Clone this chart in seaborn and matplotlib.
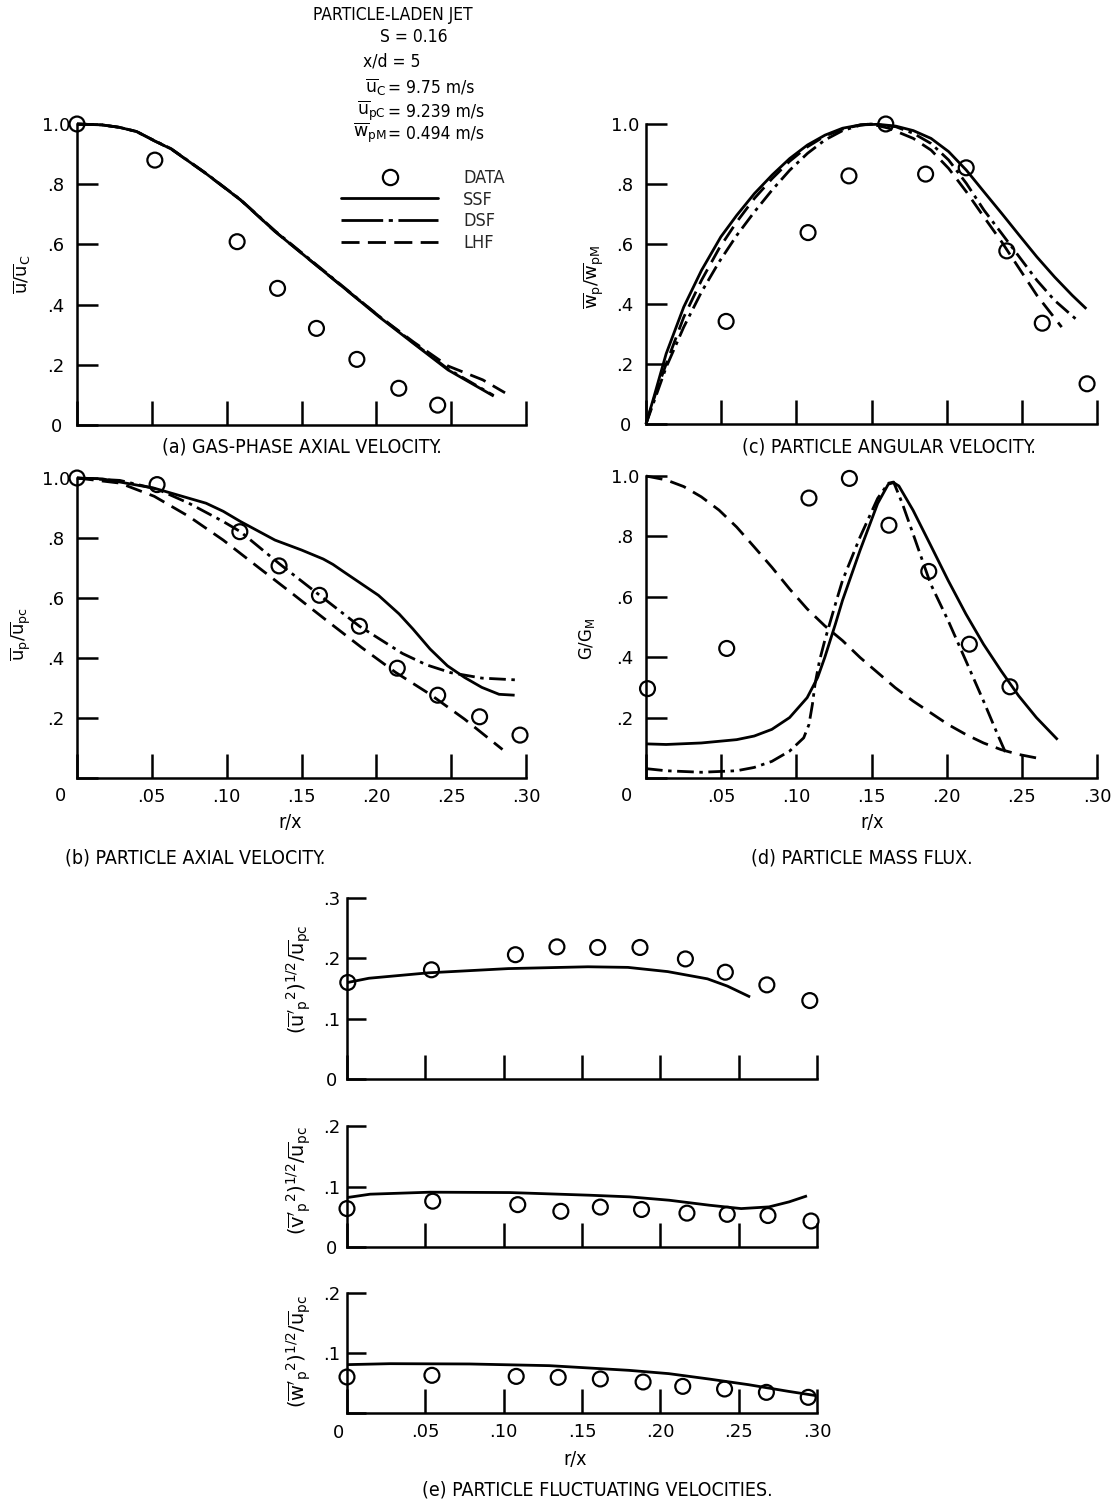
import matplotlib
matplotlib.use("Agg")
import matplotlib.pyplot as plt
import seaborn as sns
import numpy as np
import pandas as pd
from matplotlib import font_manager as fm
from matplotlib.lines import Line2D

# ---------------- data ----------------
# (a) gas-phase axial velocity
a_data_r = [0.0, 0.052, 0.107, 0.134, 0.160, 0.187, 0.215, 0.241]
a_data_y = [1.0, 0.880, 0.609, 0.454, 0.321, 0.218, 0.122, 0.066]
a_ssf_r = [0.0, 0.0167, 0.0282, 0.0398, 0.0513, 0.0629, 0.0860, 0.1092, 0.1323, 0.1554, 0.1785, 0.2017, 0.2248, 0.2479, 0.2784]
a_ssf_y = [1.0, 0.997, 0.989, 0.975, 0.945, 0.917, 0.836, 0.748, 0.643, 0.549, 0.455, 0.360, 0.271, 0.183, 0.096]
a_dsf_r = [0.0, 0.0167, 0.0282, 0.0398, 0.0513, 0.0629, 0.0860, 0.1092, 0.1323, 0.1554, 0.1785, 0.2017, 0.2248, 0.2479, 0.2784]
a_dsf_y = [1.0, 0.997, 0.989, 0.975, 0.946, 0.918, 0.837, 0.749, 0.645, 0.551, 0.457, 0.362, 0.273, 0.186, 0.098]
a_lhf_r = [0.0, 0.0167, 0.0282, 0.0398, 0.0513, 0.0629, 0.0860, 0.1092, 0.1323, 0.1554, 0.1785, 0.2017, 0.2248, 0.2479, 0.2711, 0.2860]
a_lhf_y = [1.0, 0.997, 0.989, 0.975, 0.945, 0.917, 0.836, 0.748, 0.643, 0.549, 0.455, 0.362, 0.276, 0.196, 0.150, 0.107]

# (b) particle axial velocity
b_data_r = [0.0, 0.0535, 0.1088, 0.135, 0.162, 0.1887, 0.214, 0.241, 0.269, 0.296]
b_data_y = [1.0, 0.978, 0.821, 0.707, 0.609, 0.506, 0.366, 0.276, 0.204, 0.143]
b_ssf_r = [0.0, 0.017, 0.0516, 0.0862, 0.0977, 0.1092, 0.1323, 0.1500, 0.1645, 0.1710, 0.1783, 0.2014, 0.2152, 0.2244, 0.2359, 0.2475, 0.259, 0.2705, 0.282, 0.2924]
b_ssf_y = [1.0, 0.997, 0.966, 0.916, 0.889, 0.855, 0.793, 0.760, 0.730, 0.712, 0.687, 0.609, 0.547, 0.497, 0.430, 0.374, 0.335, 0.302, 0.279, 0.276]
b_dsf_r = [0.0, 0.0286, 0.0535, 0.0747, 0.0977, 0.1092, 0.135, 0.1622, 0.1887, 0.2175, 0.2336, 0.2498, 0.2705, 0.2935]
b_dsf_y = [1.0, 0.992, 0.963, 0.916, 0.855, 0.821, 0.715, 0.609, 0.506, 0.415, 0.377, 0.351, 0.333, 0.327]
b_lhf_r = [0.0, 0.0286, 0.0516, 0.0747, 0.0977, 0.1207, 0.1438, 0.1668, 0.1899, 0.2129, 0.2359, 0.259, 0.2843]
b_lhf_y = [1.0, 0.983, 0.939, 0.872, 0.793, 0.704, 0.615, 0.525, 0.436, 0.352, 0.279, 0.196, 0.095]

# (c) particle angular velocity
c_data_r = [0.0533, 0.1078, 0.135, 0.1595, 0.186, 0.213, 0.240, 0.2636, 0.2934]
c_data_y = [0.342, 0.638, 0.827, 1.0, 0.833, 0.854, 0.577, 0.336, 0.134]
c_ssf_r = [0.0, 0.0052, 0.0134, 0.0251, 0.0369, 0.0498, 0.0604, 0.0721, 0.0839, 0.0956, 0.1074, 0.1191, 0.1308, 0.1426, 0.1543, 0.1661, 0.1778, 0.1896, 0.2013, 0.2131, 0.2248, 0.2366, 0.2483, 0.2600, 0.2718, 0.2835, 0.2929]
c_ssf_y = [0.0, 0.089, 0.234, 0.390, 0.512, 0.624, 0.696, 0.768, 0.830, 0.885, 0.930, 0.963, 0.986, 0.997, 0.999, 0.993, 0.978, 0.952, 0.908, 0.846, 0.774, 0.702, 0.629, 0.557, 0.490, 0.429, 0.384]
c_dsf_r = [0.0, 0.0134, 0.0251, 0.0369, 0.0486, 0.0604, 0.0721, 0.0839, 0.0956, 0.1074, 0.1191, 0.1308, 0.1426, 0.1496, 0.1661, 0.1778, 0.1896, 0.2013, 0.2131, 0.2248, 0.2366, 0.2483, 0.2600, 0.2718, 0.2882]
c_dsf_y = [0.0, 0.189, 0.323, 0.440, 0.540, 0.629, 0.707, 0.780, 0.846, 0.902, 0.947, 0.978, 0.996, 1.0, 0.991, 0.969, 0.935, 0.880, 0.802, 0.713, 0.635, 0.557, 0.479, 0.412, 0.340]
c_lhf_r = [0.0, 0.0063, 0.0134, 0.0251, 0.0369, 0.0486, 0.0604, 0.0721, 0.0839, 0.0956, 0.1074, 0.1191, 0.1308, 0.1426, 0.1496, 0.1614, 0.1778, 0.1896, 0.2013, 0.2131, 0.2248, 0.2366, 0.2483, 0.2600, 0.2765]
c_lhf_y = [0.0, 0.100, 0.200, 0.356, 0.479, 0.585, 0.674, 0.752, 0.818, 0.876, 0.924, 0.960, 0.983, 0.997, 1.0, 0.986, 0.952, 0.913, 0.852, 0.774, 0.690, 0.607, 0.518, 0.429, 0.323]

# (d) particle mass flux
d_data_r = [0.001, 0.0537, 0.1084, 0.1353, 0.1616, 0.1881, 0.2151, 0.2421]
d_data_y = [0.296, 0.429, 0.927, 0.992, 0.837, 0.684, 0.443, 0.302]
d_ssf_r = [0.0, 0.0134, 0.0368, 0.0603, 0.0720, 0.0837, 0.0955, 0.1072, 0.1142, 0.1189, 0.1260, 0.1307, 0.1424, 0.1541, 0.1612, 0.1647, 0.1682, 0.1776, 0.1893, 0.2010, 0.2128, 0.2245, 0.2362, 0.2479, 0.2597, 0.2738]
d_ssf_y = [0.113, 0.111, 0.116, 0.127, 0.139, 0.161, 0.200, 0.266, 0.333, 0.399, 0.510, 0.588, 0.754, 0.909, 0.973, 0.978, 0.967, 0.887, 0.771, 0.654, 0.543, 0.443, 0.355, 0.272, 0.200, 0.127]
d_dsf_r = [0.0, 0.0134, 0.0368, 0.0603, 0.0720, 0.0837, 0.0955, 0.1049, 0.1084, 0.1107, 0.1124, 0.1154, 0.1189, 0.1260, 0.1307, 0.1424, 0.1541, 0.1612, 0.1647, 0.1705, 0.1776, 0.1893, 0.2010, 0.2128, 0.2245, 0.2339, 0.2390]
d_dsf_y = [0.031, 0.024, 0.019, 0.024, 0.035, 0.055, 0.089, 0.133, 0.177, 0.244, 0.310, 0.388, 0.455, 0.576, 0.654, 0.798, 0.926, 0.976, 0.980, 0.909, 0.809, 0.643, 0.521, 0.388, 0.255, 0.144, 0.086]
d_lhf_r = [0.0, 0.0134, 0.0251, 0.0368, 0.0486, 0.0603, 0.0720, 0.0837, 0.0955, 0.1072, 0.1189, 0.1307, 0.1424, 0.1541, 0.1658, 0.1776, 0.1893, 0.2010, 0.2128, 0.2245, 0.2362, 0.2479, 0.2632]
d_lhf_y = [1.0, 0.987, 0.965, 0.931, 0.887, 0.831, 0.765, 0.698, 0.626, 0.560, 0.504, 0.455, 0.399, 0.349, 0.299, 0.255, 0.216, 0.177, 0.144, 0.116, 0.094, 0.078, 0.063]

# (e) particle fluctuating velocities
e_u_data_r = [0.0005, 0.0539, 0.1075, 0.134, 0.160, 0.187, 0.216, 0.2415, 0.268, 0.2954]
e_u_data_y = [0.160, 0.181, 0.206, 0.219, 0.218, 0.218, 0.199, 0.177, 0.156, 0.130]
e_u_ssf_r = [0.0005, 0.014, 0.0521, 0.103, 0.1538, 0.1793, 0.2047, 0.2301, 0.2428, 0.2573]
e_u_ssf_y = [0.160, 0.167, 0.176, 0.183, 0.186, 0.185, 0.178, 0.166, 0.154, 0.136]

e_v_data_r = [0.0, 0.0547, 0.109, 0.1365, 0.1617, 0.188, 0.217, 0.2427, 0.2687, 0.2962]
e_v_data_y = [0.0635, 0.0757, 0.070, 0.059, 0.066, 0.062, 0.056, 0.054, 0.052, 0.043]
e_v_ssf_r = [0.0003, 0.0148, 0.053, 0.1039, 0.1548, 0.1803, 0.2057, 0.2312, 0.2516, 0.2694, 0.2822, 0.2936]
e_v_ssf_y = [0.0818, 0.0873, 0.0906, 0.090, 0.0856, 0.0829, 0.0773, 0.0691, 0.0635, 0.0663, 0.0746, 0.0845]

e_w_data_r = [0.0, 0.0542, 0.108, 0.1348, 0.1617, 0.189, 0.2143, 0.241, 0.2677, 0.2944]
e_w_data_y = [0.060, 0.0628, 0.061, 0.0594, 0.0567, 0.0517, 0.0444, 0.040, 0.0344, 0.0261]
e_w_ssf_r = [0.0, 0.0275, 0.0783, 0.1292, 0.18, 0.2054, 0.2309, 0.2563, 0.2817, 0.2995]
e_w_ssf_y = [0.0806, 0.0822, 0.0817, 0.0789, 0.0711, 0.0656, 0.0567, 0.0472, 0.0361, 0.0289]

x_ticks = [0.0, 0.05, 0.10, 0.15, 0.20, 0.25, 0.30]
x_ticklabels = ["", ".05", ".10", ".15", ".20", ".25", ".30"]
y_ticks_unit = [0.0, 0.2, 0.4, 0.6, 0.8, 1.0]
y_labels_unit = ["0", ".2", ".4", ".6", ".8", "1.0"]
y_labels_unit_no0 = ["", ".2", ".4", ".6", ".8", "1.0"]
legend_labels = ["DATA", "SSF", "DSF", "LHF"]

# ---------------- style ----------------
sns.set_theme(style="white")
plt.rcParams["font.family"] = ["DejaVu Sans"]
plt.rcParams["mathtext.fontset"] = "dejavusans"
plt.rcParams["lines.scale_dashes"] = False


def pick_font():
    for f in fm.fontManager.ttflist:
        if f.fname.endswith("DejaVuSansCondensed.ttf"):
            return f.fname, 14
    for f in fm.fontManager.ttflist:
        if "Liberation Sans Narrow" in f.name and f.style == "normal" and f.weight in (400, "normal", "regular"):
            return f.fname, 15
    return None, 12.5


FNAME, TSIZE = pick_font()


def tfont(size=None):
    size = TSIZE if size is None else size
    if FNAME:
        return fm.FontProperties(fname=FNAME, size=size)
    return fm.FontProperties(family="DejaVu Sans", size=size)


W, H = 1114, 1503
fig = plt.figure(figsize=(W / 100, H / 100), dpi=100)
fig.patch.set_facecolor("white")

LW = 2.0
DSF_DASH = (12, 4, 2.5, 4)
LHF_DASH = (12, 6)
PX = 0.72  # points per pixel


def add_ax(l, r, b, t):
    return fig.add_axes([l / W, 1 - b / H, (r - l) / W, (b - t) / H])


def style(ax, ylim, yticks, ylabels, show_x=False, ytl=15, xtl=17, ypad=15):
    ax.set_facecolor("none")
    ax.set_xlim(0, 0.30)
    ax.set_ylim(*ylim)
    for s in ["top", "right"]:
        ax.spines[s].set_visible(False)
    for s in ["left", "bottom"]:
        ax.spines[s].set_linewidth(1.8)
        ax.spines[s].set_color("black")
    ax.grid(False)
    ax.set_xticks(x_ticks)
    if show_x:
        ax.set_xticklabels(x_ticklabels)
    else:
        ax.set_xticklabels([])
    ax.tick_params(axis="x", direction="in", length=xtl, width=1.8, color="black",
                   labelsize=13, pad=7, bottom=True, labelcolor="black")
    ax.set_yticks(yticks)
    ax.set_yticklabels(ylabels, ha="center")
    ax.tick_params(axis="y", direction="in", length=ytl, width=1.8, color="black",
                   labelsize=13, pad=ypad, left=True, labelcolor="black")
    ax.set_xlabel("")
    ax.set_ylabel("")


def curve(ax, r, y, kind):
    sns.lineplot(x=r, y=y, ax=ax, color="black", lw=LW, estimator=None, sort=False,
                 clip_on=False, zorder=3)
    ln = ax.lines[-1]
    if kind == "DSF":
        ln.set_dashes(DSF_DASH)
    elif kind == "LHF":
        ln.set_dashes(LHF_DASH)
    ln.set_solid_capstyle("butt")
    ln.set_dash_capstyle("butt")


def points(ax, r, y):
    sns.scatterplot(x=r, y=y, ax=ax, marker="o", s=115, facecolor="none",
                    edgecolor="black", linewidth=1.6, clip_on=False, zorder=5)


def ylab(ax, text, xf, yf, size=13):
    ax.set_ylabel(text, fontsize=size, va="center", color="black")
    ax.yaxis.set_label_coords(xf, yf)


def zero_x(ax, dx_px, dy_px):
    ax.annotate("0", xy=(0, 0), xycoords="axes fraction",
                xytext=(dx_px * PX, dy_px * PX), textcoords="offset points",
                ha="center", va="center", fontsize=13, color="black")


def rx_label(ax, xf, yf):
    ax.set_xlabel("r/x", fontproperties=tfont(), va="center", color="black")
    ax.xaxis.set_label_coords(xf, yf)


# (a)
axa = add_ax(77, 526, 425, 124)
style(axa, (0, 1.0), y_ticks_unit, y_labels_unit, ytl=15)
curve(axa, a_lhf_r, a_lhf_y, "LHF")
curve(axa, a_dsf_r, a_dsf_y, "DSF")
curve(axa, a_ssf_r, a_ssf_y, "SSF")
points(axa, a_data_r, a_data_y)
ylab(axa, r"$\overline{\mathrm{u}}/\overline{\mathrm{u}}_\mathrm{C}$", -0.122, 0.50)

# (b)
axb = add_ax(77, 526, 778, 478)
style(axb, (0, 1.0), y_ticks_unit, y_labels_unit_no0, show_x=True)
curve(axb, b_lhf_r, b_lhf_y, "LHF")
curve(axb, b_dsf_r, b_dsf_y, "DSF")
curve(axb, b_ssf_r, b_ssf_y, "SSF")
points(axb, b_data_r, b_data_y)
ylab(axb, r"$\overline{\mathrm{u}}_\mathrm{p}/\overline{\mathrm{u}}_\mathrm{pc}$", -0.125, 0.48)
zero_x(axb, -17, -18)
rx_label(axb, (290 - 77) / 449, -0.147)

# (c)
axc = add_ax(646, 1097, 424, 124)
style(axc, (0, 1.0), y_ticks_unit, y_labels_unit)
curve(axc, c_lhf_r, c_lhf_y, "LHF")
curve(axc, c_dsf_r, c_dsf_y, "DSF")
curve(axc, c_ssf_r, c_ssf_y, "SSF")
points(axc, c_data_r, c_data_y)
ylab(axc, r"$\overline{\mathrm{w}}_\mathrm{p}/\overline{\mathrm{w}}_\mathrm{pM}$", -0.115, 0.49)

# (d)
axd = add_ax(646, 1097, 778, 476)
style(axd, (0, 1.0), y_ticks_unit, y_labels_unit_no0, show_x=True)
curve(axd, d_lhf_r, d_lhf_y, "LHF")
curve(axd, d_dsf_r, d_dsf_y, "DSF")
curve(axd, d_ssf_r, d_ssf_y, "SSF")
points(axd, d_data_r, d_data_y)
ylab(axd, r"$\mathrm{G}/\mathrm{G}_\mathrm{M}$", -0.131, 0.46, size=12)
zero_x(axd, -19, -18)
rx_label(axd, (872 - 646) / 451, -0.146)

# (e) three stacked panels
ELX = -0.102
axe1 = add_ax(347, 817, 1079, 898)
style(axe1, (0, 0.3), [0.0, 0.1, 0.2, 0.3], ["0", ".1", ".2", ".3"], ytl=14, ypad=11)
curve(axe1, e_u_ssf_r, e_u_ssf_y, "SSF")
points(axe1, e_u_data_r, e_u_data_y)
ylab(axe1, r"$(\overline{\mathrm{u}}'_\mathrm{p}{}^{2})^{1/2}/\overline{\mathrm{u}}_\mathrm{pc}$", ELX, 0.55, size=14)

axe2 = add_ax(347, 817, 1247, 1126)
style(axe2, (0, 0.2), [0.0, 0.1, 0.2], ["0", ".1", ".2"], ytl=14, ypad=11)
curve(axe2, e_v_ssf_r, e_v_ssf_y, "SSF")
points(axe2, e_v_data_r, e_v_data_y)
ylab(axe2, r"$(\overline{\mathrm{v}}'_\mathrm{p}{}^{2})^{1/2}/\overline{\mathrm{u}}_\mathrm{pc}$", ELX, 0.55, size=14)

axe3 = add_ax(347, 817, 1413, 1293)
style(axe3, (0, 0.2), [0.0, 0.1, 0.2], ["", ".1", ".2"], show_x=True, ytl=14, ypad=11)
curve(axe3, e_w_ssf_r, e_w_ssf_y, "SSF")
points(axe3, e_w_data_r, e_w_data_y)
ylab(axe3, r"$(\overline{\mathrm{w}}'_\mathrm{p}{}^{2})^{1/2}/\overline{\mathrm{u}}_\mathrm{pc}$", ELX, 0.51, size=14)
zero_x(axe3, -8, -20)
rx_label(axe3, (575 - 347) / 470, -0.39)


# ---------------- figure texts ----------------
def ftext(x, y, s, ha="center", size=None):
    fig.text(x / W, 1 - y / H, s, ha=ha, va="center", fontproperties=tfont(size), color="black")


HS = TSIZE - 1.5
ftext(393, 15, "PARTICLE-LADEN JET", size=HS)
ftext(414, 37, "S = 0.16", size=HS)
ftext(392, 62, "x/d = 5", size=HS)
# centreline values
ftext(386, 87, r"$\overline{\mathrm{u}}_\mathrm{C}$", ha="right", size=HS)
ftext(388, 87, "= 9.75 m/s", ha="left", size=HS)
ftext(386, 111, r"$\overline{\mathrm{u}}_\mathrm{pC}$", ha="right", size=HS)
ftext(388, 111, "= 9.239 m/s", ha="left", size=HS)
ftext(386, 133, r"$\overline{\mathrm{w}}_\mathrm{pM}$", ha="right", size=HS)
ftext(388, 133, "= 0.494 m/s", ha="left", size=HS)

ftext(302, 447, "(a) GAS-PHASE AXIAL VELOCITY.")
ftext(889, 447, "(c) PARTICLE ANGULAR VELOCITY.")
ftext(195, 858, "(b) PARTICLE AXIAL VELOCITY.")
ftext(862, 858, "(d) PARTICLE MASS FLUX.")
ftext(597, 1490, "(e) PARTICLE FLUCTUATING VELOCITIES.")

# legend
h_data = Line2D([], [], marker="o", ls="none", mfc="none", mec="black", ms=11, mew=1.6)
h_ssf = Line2D([], [], color="black", lw=LW)
h_dsf = Line2D([], [], color="black", lw=LW, dashes=(30, 4, 3, 4))
h_lhf = Line2D([], [], color="black", lw=LW, dashes=(13, 6))
LS = TSIZE - 1
fs_px = LS / PX
fig.legend([h_data, h_ssf, h_dsf, h_lhf], legend_labels, loc="upper left",
           bbox_to_anchor=(341 / W, 1 - 169 / H), bbox_transform=fig.transFigure,
           frameon=False, handlelength=97 / fs_px, handletextpad=25 / fs_px,
           labelspacing=0.2, borderpad=0, borderaxespad=0, prop=tfont(LS))

fig.savefig("out.png", dpi=100, facecolor="white")
